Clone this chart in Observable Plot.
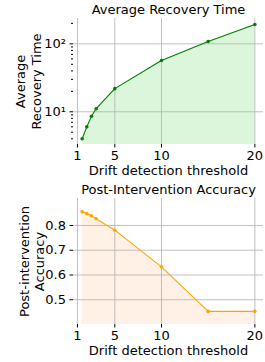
<!DOCTYPE html>
<html>
<head>
<meta charset="utf-8">
<script src="https://cdn.jsdelivr.net/npm/d3@7"></script>
<script src="https://cdn.jsdelivr.net/npm/@observablehq/plot@0.6"></script>
<style>
  html, body { margin: 0; padding: 0; background: #fff; }
  svg { display: block; }
</style>
</head>
<body>
<div id="chart"></div>
<script>
const thresholds = [1.5, 2, 2.5, 3, 5, 10, 15, 20];
const recoveryTime = [4.0, 6.0, 8.6, 11.1, 21.9, 56.8, 108, 193];
const accuracy = [0.855, 0.848, 0.839, 0.827, 0.781, 0.633, 0.453, 0.453];
const xTicks = [1, 5, 10, 20];
const recYTicks = [10, 100];
const recYTickLabels = ["10\u00b9", "10\u00b2"];
const recMinorTicks = [4, 5, 6, 7, 8, 9, 20, 30, 40, 50, 60, 70, 80, 90, 200];
const accYTicks = [0.5, 0.6, 0.7, 0.8];

const font = "DejaVu Sans, sans-serif";
const xDomain = [0.575, 20.925];
const recDomain = [3.3, 236];
const accDomain = [0.4, 0.909];

const recData = thresholds.map((x, i) => ({x, y: recoveryTime[i]}));
const accData = thresholds.map((x, i) => ({x, y: accuracy[i]}));

function makePlot({data, yType, yDomain, yTicks, yTickFormat, minor, color, fillColor, title, ylabel, ylabelDx, titleDy, marginTop, marginBottom, height}) {
  const base = yDomain[0];
  const marks = [
    Plot.areaY(data, {x: "x", y1: () => base, y2: "y", fill: fillColor}),
    Plot.gridX(xTicks, {stroke: "#b0b0b0", strokeOpacity: 1, strokeWidth: 0.8}),
    Plot.gridY(yTicks, {stroke: "#b0b0b0", strokeOpacity: 1, strokeWidth: 0.8}),
    Plot.line(data, {x: "x", y: "y", stroke: color, strokeWidth: 1.1}),
    Plot.dot(data, {x: "x", y: "y", fill: color, r: 1.8}),
    Plot.axisX({ticks: xTicks, tickSize: 3.5, tickPadding: 2.5, line: true, label: null, fontSize: 13}),
    Plot.axisY({ticks: yTicks, tickFormat: yTickFormat, tickSize: 3.5, tickPadding: 4, line: true, label: null, fontSize: 13}),
    Plot.text([title], {frameAnchor: "top", dy: titleDy, lineAnchor: "middle", fontSize: 13, fill: "black"}),
    Plot.text([ylabel], {frameAnchor: "left", rotate: -90, dx: ylabelDx, lineAnchor: "middle", textAnchor: "middle", fontSize: 13, lineHeight: 1.2, fill: "black"}),
    Plot.text(["Drift detection threshold"], {frameAnchor: "bottom", dy: 26, lineAnchor: "middle", fontSize: 13, fill: "black"})
  ];
  if (minor) {
    marks.push(Plot.axisY({ticks: minor, tickFormat: () => "", tickSize: 2, label: null}));
  }
  return Plot.plot({
    width: 265,
    height,
    marginLeft: 73,
    marginRight: 2,
    marginTop,
    marginBottom,
    style: {fontFamily: font, fontSize: "13px", color: "black", background: "white"},
    x: {domain: xDomain},
    y: {type: yType, domain: yDomain},
    marks
  });
}

const topPlot = makePlot({
  data: recData, yType: "log", yDomain: recDomain, yTicks: recYTicks,
  yTickFormat: d => recYTickLabels[recYTicks.indexOf(d)],
  minor: recMinorTicks, color: "green", fillColor: "#dbf6db",
  title: "Average Recovery Time", ylabel: "Average\nRecovery Time", ylabelDx: -45.5,
  titleDy: -9, marginTop: 18, marginBottom: 37, height: 181
});
const bottomPlot = makePlot({
  data: accData, yType: "linear", yDomain: accDomain, yTicks: accYTicks,
  yTickFormat: d => d.toFixed(1),
  minor: null, color: "#FFA500", fillColor: "#fff1e5",
  title: "Post-Intervention Accuracy", ylabel: "Post-intervention\nAccuracy", ylabelDx: -42,
  titleDy: -9, marginTop: 17, marginBottom: 38, height: 181
});
document.getElementById("chart").append(topPlot, bottomPlot);
</script>
</body>
</html>
